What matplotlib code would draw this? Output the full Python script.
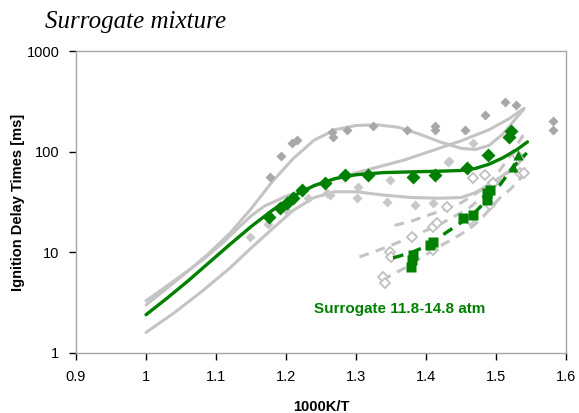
"""
Ignition delay times of the surrogate mixture vs 1000K/T.
Recreated as a single static matplotlib figure (out.png).
"""

import matplotlib
matplotlib.use("Agg")
import matplotlib.pyplot as plt

plt.rcParams['font.family'] = ['Liberation Sans', 'DejaVu Sans']

# ---- data ----
# model fits (solid)
fit_green_x = [1.00, 1.03, 1.06, 1.09, 1.12, 1.15, 1.18, 1.21, 1.24, 1.27, 1.30,
               1.34, 1.38, 1.42, 1.45, 1.47, 1.49, 1.51, 1.53, 1.545]
fit_green_y = [2.4, 3.5, 5.2, 7.9, 12, 18, 26, 36, 46, 54, 59,
               62, 63, 64, 65, 68, 75, 87, 105, 125]

fit_hi_x = [1.00, 1.03, 1.06, 1.09, 1.12, 1.15, 1.18, 1.21, 1.24, 1.27, 1.30,
            1.33, 1.36, 1.39, 1.42, 1.45, 1.47, 1.49, 1.51, 1.53, 1.54]
fit_hi_y = [3.0, 4.4, 6.5, 9.8, 15.5, 27, 50, 85, 130, 165, 182,
            185, 175, 150, 125, 108, 105, 115, 150, 220, 265]

fit_mid_x = [1.00, 1.04, 1.08, 1.11, 1.13, 1.15, 1.17, 1.20, 1.23, 1.26, 1.29,
             1.33, 1.37, 1.41, 1.45, 1.49, 1.52, 1.54]
fit_mid_y = [3.3, 5.2, 8.3, 12.5, 17, 23, 29, 36, 43, 51, 59,
             70, 83, 103, 128, 165, 215, 270]

fit_lo_x = [1.00, 1.04, 1.08, 1.12, 1.15, 1.18, 1.21, 1.24, 1.27, 1.30,
            1.34, 1.38, 1.42, 1.45, 1.47, 1.49, 1.51, 1.53, 1.54]
fit_lo_y = [1.6, 2.5, 4.1, 7.0, 11, 17, 26, 35, 40, 40,
            37, 35, 34.5, 35, 39, 47, 58, 74, 88]

# model fits (dashed)
dash_green_x = [1.353, 1.38, 1.40, 1.43, 1.449, 1.47, 1.487, 1.505, 1.524, 1.544]
dash_green_y = [8.8, 10.0, 11.5, 15.9, 19.5, 25, 33, 46, 70, 97]

dash_a_x = [1.355, 1.38, 1.40, 1.43, 1.45, 1.48, 1.50, 1.52, 1.54]
dash_a_y = [18.5, 20.5, 23, 27, 31, 42, 58, 90, 150]

dash_b_x = [1.305, 1.34, 1.377, 1.42, 1.46, 1.49, 1.51, 1.535]
dash_b_y = [9.0, 11, 14, 19, 27, 40, 55, 83]

dash_c_x = [1.337, 1.37, 1.41, 1.46, 1.48, 1.506, 1.52, 1.544]
dash_c_y = [5.3, 7.0, 10.5, 16.6, 22, 35, 42, 63]

# measurements
pts_hi_x = [1.177, 1.193, 1.209, 1.216, 1.266, 1.267, 1.287, 1.324, 1.373,
            1.413, 1.413, 1.456, 1.484, 1.513, 1.529, 1.581, 1.581]
pts_hi_y = [56, 90, 122, 130, 157, 140, 164, 180, 164,
            180, 164, 164, 231, 310, 290, 200, 164]

pts_lo_x = [1.149, 1.174, 1.201, 1.231, 1.259, 1.263, 1.301, 1.303, 1.344,
            1.349, 1.384, 1.41, 1.431, 1.433, 1.466, 1.467]
pts_lo_y = [14.2, 19, 26, 35, 39, 37, 35, 45, 31.6,
            52, 29.5, 31, 79, 80, 55, 122]

pts_open_x = [1.339, 1.341, 1.349, 1.35, 1.38, 1.41, 1.41, 1.416, 1.43,
              1.463, 1.467, 1.484, 1.491, 1.496, 1.53, 1.534, 1.54]
pts_open_y = [5.7, 5.0, 10, 9, 14.2, 17.9, 10.5, 19.5, 28,
              21, 55, 59, 29.5, 49, 93, 61, 62]

sur_diam_x = [1.176, 1.191, 1.201, 1.21, 1.223, 1.256, 1.284, 1.317,
              1.381, 1.413, 1.459, 1.489, 1.519, 1.522]
sur_diam_y = [22.4, 27.5, 31, 35, 41.5, 49, 59, 59,
              56, 59, 69, 93, 139, 160]

sur_sq_x = [1.378, 1.38, 1.382, 1.406, 1.41, 1.453, 1.467, 1.487, 1.487, 1.492]
sur_sq_y = [7.1, 8.4, 9.4, 11.8, 12.6, 21.9, 23.4, 33, 39, 41.5]

sur_tri_x = [1.524, 1.531]
sur_tri_y = [70, 92]

xticks = [0.9, 1.0, 1.1, 1.2, 1.3, 1.4, 1.5, 1.6]
xtick_labels = ['0.9', '1', '1.1', '1.2', '1.3', '1.4', '1.5', '1.6']
yticks = [1, 10, 100, 1000]
ytick_labels = ['1', '10', '100', '1000']

GREEN = '#008000'
LINE_GRAY = '#C4C4C4'

fig = plt.figure(figsize=(5.79, 4.13), dpi=100)
ax = fig.add_axes([0.1313, 0.1453, 0.8462, 0.7312])

# fits
for fx, fy in [(fit_hi_x, fit_hi_y), (fit_mid_x, fit_mid_y), (fit_lo_x, fit_lo_y)]:
    ax.plot(fx, fy, color=LINE_GRAY, lw=2.2, solid_capstyle='round', zorder=2)
for fx, fy in [(dash_a_x, dash_a_y), (dash_b_x, dash_b_y), (dash_c_x, dash_c_y)]:
    ax.plot(fx, fy, color=LINE_GRAY, lw=2.2, ls=(0, (3.2, 2.4)), zorder=2)

# measurements
ax.plot(pts_hi_x, pts_hi_y, 'D', color='#A8A8A8', ms=5.5, mec='none', zorder=3)
ax.plot(pts_lo_x, pts_lo_y, 'D', color='#C8C8C8', ms=5.5, mec='none', zorder=3)
ax.plot(pts_open_x, pts_open_y, 'D', mfc='white', mec='#C0C0C0', mew=1.3,
        ms=5, zorder=3)

ax.plot(fit_green_x, fit_green_y, color=GREEN, lw=2.4, solid_capstyle='round', zorder=4)
ax.plot(dash_green_x, dash_green_y, color=GREEN, lw=2.4, ls=(0, (3.2, 2.4)), zorder=4)
ax.plot(sur_diam_x, sur_diam_y, 'D', color=GREEN, ms=7, mec='none', zorder=5)
ax.plot(sur_sq_x, sur_sq_y, 's', color=GREEN, ms=7.5, mec='none', zorder=5)
ax.plot(sur_tri_x, sur_tri_y, '^', color=GREEN, ms=7, mec='none', zorder=5)

ax.text(1.363, 2.73, 'Surrogate 11.8-14.8 atm', color=GREEN, fontsize=11,
        fontweight='bold', ha='center', va='center')

# axes styling
ax.set_yscale('log')
ax.set_xlim(0.9, 1.6)
ax.set_ylim(1, 1000)
ax.set_xticks(xticks)
ax.set_xticklabels(xtick_labels)
ax.set_yticks(yticks)
ax.set_yticklabels(ytick_labels)
ax.minorticks_off()
ax.tick_params(axis='both', direction='out', length=5, width=1, color='black',
               labelsize=10.5, pad=7)
for s in ax.spines.values():
    s.set_color('#A6A6A6')
    s.set_linewidth(1.0)

ax.set_xlabel('1000K/T', fontsize=10.5, fontweight='bold', labelpad=12)
ax.set_ylabel('Ignition Delay Times [ms]', fontsize=10.5, fontweight='bold', labelpad=1)

fig.text(0.078, 0.947, 'Surrogate mixture', family='Liberation Serif',
         style='italic', fontsize=18, ha='left', va='center')

plt.savefig('out.png', dpi=100)
plt.close()
